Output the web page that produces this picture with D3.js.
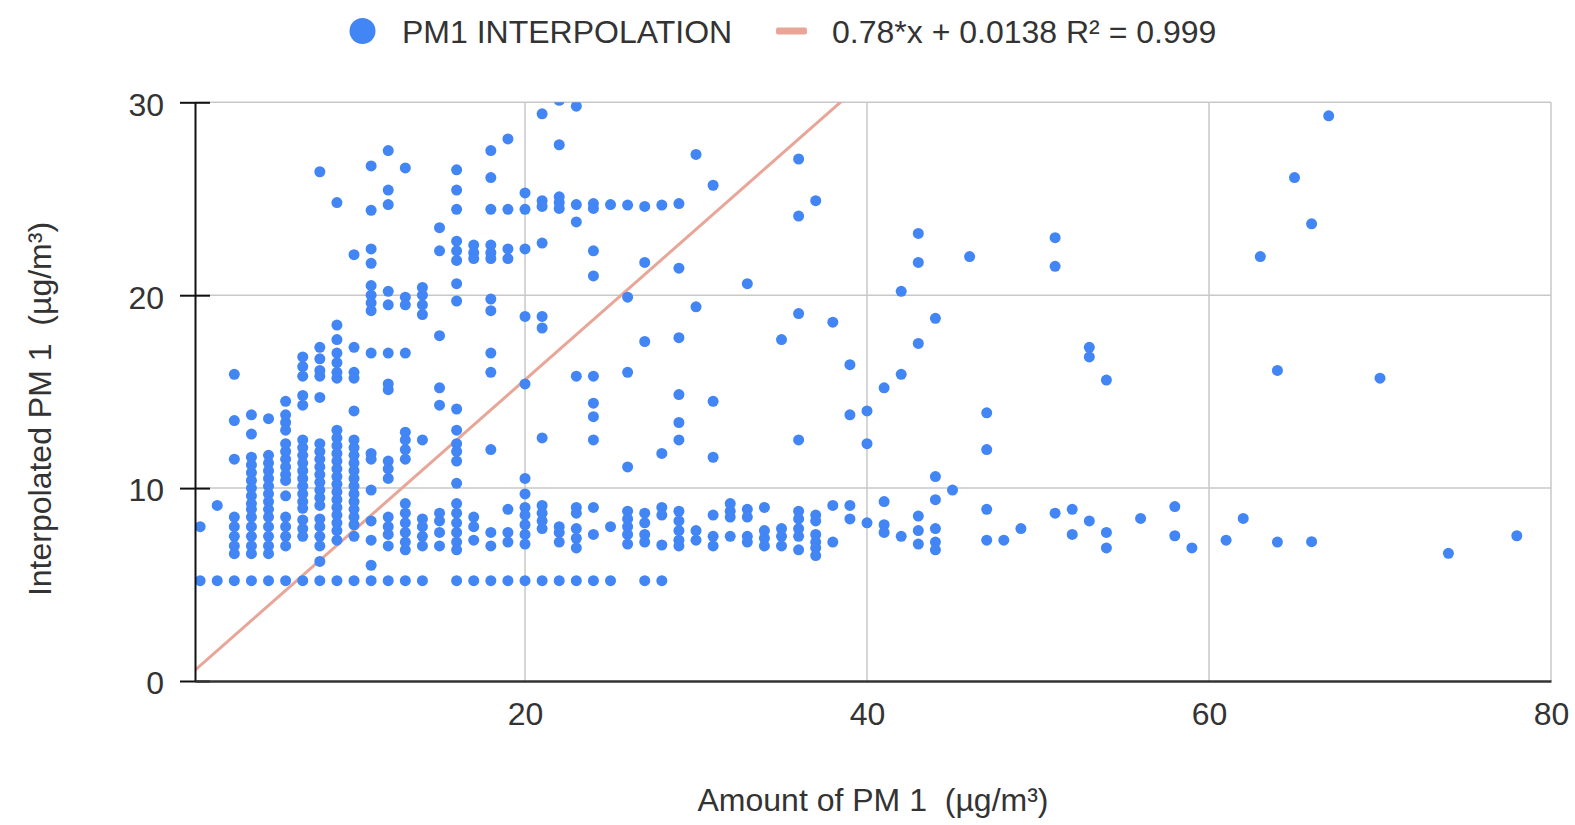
<!DOCTYPE html>
<html><head><meta charset="utf-8">
<script src="https://cdn.jsdelivr.net/npm/d3@7"></script>
<style>
html,body{margin:0;padding:0;background:#fff;}
svg{display:block;font-family:"Liberation Sans",Arial,sans-serif;}
text{white-space:pre;}
</style></head><body>
<svg id="chart" width="1575" height="825"></svg>
<script>
// ---- data ----
const xTickValues = [20, 40, 60, 80];
const yTickValues = [0, 10, 20, 30];
const seriesName = "PM1 INTERPOLATION";
const trendLabel = "0.78*x + 0.0138 R\u00B2 = 0.999";
const trendSlope = 0.78;
const trendIntercept = 0.0138;
const xAxisTitle = "Amount of PM 1  (\u00B5g/m\u00B3)";
const yAxisTitle = "Interpolated PM 1  (\u00B5g/m\u00B3)";

// measured PM1 amount (x) and the interpolated PM1 values observed at that amount (y)
const amountPM1 = [1,2,3,4,5,6,7,8,9,10,11,12,13,14,15,16,17,18,19,20,21,22,23,24,25,26,27,28,29,30,31,32,33,34,35,36,37,38,39,40,41,42,43,44,45,46,47,48,49,51,52,53,54,56,58,59,61,62,63,64,65,66,67,70,74,78];
const interpolatedPM1 = [
  [8.0, 5.2],
  [9.1, 5.2],
  [15.9, 13.5, 11.5, 8.5, 8.0, 7.5, 7.0, 6.6, 5.2],
  [13.8, 12.8, 11.6, 11.2, 10.8, 10.4, 10.0, 9.6, 9.2, 8.9, 8.5, 8.0, 7.5, 7.0, 6.6, 5.2],
  [13.6, 11.7, 11.3, 10.9, 10.5, 10.1, 9.7, 9.3, 8.9, 8.5, 8.0, 7.5, 7.0, 6.6, 5.2],
  [14.5, 13.8, 13.4, 13.0, 12.3, 11.9, 11.5, 11.1, 10.7, 10.4, 9.6, 8.5, 8.0, 7.5, 7.0, 5.2],
  [16.8, 16.3, 15.8, 14.8, 14.3, 12.5, 12.1, 11.7, 11.3, 10.9, 10.5, 10.1, 9.7, 9.3, 8.95, 8.35, 7.9, 7.5, 5.2],
  [26.4, 17.3, 16.7, 16.1, 15.8, 14.7, 12.3, 11.9, 11.5, 11.1, 10.7, 10.3, 9.9, 9.5, 9.1, 8.4, 8.0, 7.5, 7.0, 6.2, 5.2],
  [24.8, 18.45, 17.7, 17.0, 16.5, 16.0, 15.7, 13.0, 12.6, 12.2, 11.8, 11.4, 11.0, 10.6, 10.2, 9.8, 9.4, 9.0, 8.6, 8.2, 7.8, 7.3, 5.2],
  [22.1, 17.3, 16.0, 15.7, 14.0, 12.5, 12.1, 11.7, 11.3, 10.9, 10.5, 10.1, 9.7, 9.3, 8.9, 8.5, 8.1, 7.5, 5.2],
  [26.7, 24.4, 22.4, 21.65, 20.5, 20.0, 19.6, 19.2, 17.0, 11.8, 11.5, 9.9, 8.3, 7.3, 6.0, 5.2],
  [27.5, 25.45, 24.7, 20.2, 19.5, 17.0, 15.4, 15.1, 11.4, 11.0, 10.5, 8.5, 8.0, 7.6, 7.0, 5.2],
  [26.6, 19.9, 19.5, 17.0, 12.9, 12.5, 12.0, 11.5, 9.2, 8.7, 8.2, 7.7, 7.2, 6.8, 5.2],
  [20.4, 20.0, 19.5, 19.0, 12.5, 8.4, 8.0, 7.5, 7.0, 5.2],
  [23.5, 22.3, 17.9, 15.2, 14.3, 8.7, 8.3, 7.7, 7.0],
  [26.5, 25.45, 24.45, 22.8, 22.3, 21.8, 20.6, 19.7, 14.1, 13.0, 12.3, 11.9, 11.4, 10.25, 9.2, 8.7, 8.2, 7.7, 7.2, 6.8, 5.2],
  [22.6, 22.2, 21.9, 8.5, 8.0, 7.3, 5.2],
  [27.5, 26.1, 24.45, 22.6, 22.2, 21.9, 19.8, 19.2, 17.0, 16.0, 12.0, 7.7, 7.0, 5.2],
  [28.1, 24.45, 22.4, 21.9, 8.9, 7.7, 7.2, 5.2],
  [25.3, 24.45, 22.4, 18.9, 15.4, 10.5, 9.7, 9.0, 8.6, 8.1, 7.6, 7.1, 5.2],
  [29.4, 24.9, 24.6, 22.7, 18.9, 18.3, 12.6, 9.1, 8.7, 8.3, 7.9, 5.2],
  [30.1, 27.8, 25.1, 24.8, 24.5, 8.0, 7.7, 7.2, 5.2],
  [29.8, 24.7, 23.8, 15.8, 9.0, 8.7, 7.9, 7.4, 6.9, 5.2],
  [24.75, 24.5, 22.3, 21.0, 15.8, 14.4, 13.7, 12.5, 9.0, 7.6, 5.2],
  [24.7, 8.0, 5.2],
  [24.67, 19.9, 16.0, 11.1, 8.8, 8.4, 8.0, 7.6, 7.1],
  [24.6, 21.7, 17.6, 8.7, 8.2, 7.6, 7.2, 5.2],
  [24.67, 11.8, 9.0, 8.6, 7.05, 5.2],
  [24.75, 21.4, 17.8, 14.85, 13.4, 12.5, 8.8, 8.3, 7.8, 7.3, 7.0],
  [27.3, 19.4, 7.8, 7.3],
  [25.7, 14.5, 11.6, 8.6, 7.5, 7.0],
  [9.2, 8.8, 8.5, 7.5],
  [20.6, 8.9, 8.5, 7.5, 7.2],
  [9.0, 7.8, 7.4, 7.0],
  [17.7, 7.9, 7.5, 7.0],
  [27.06, 24.1, 19.05, 12.5, 8.8, 8.4, 7.9, 7.5, 6.8],
  [24.9, 8.6, 8.3, 7.6, 7.2, 6.9, 6.5],
  [18.6, 9.1, 7.2],
  [16.4, 13.8, 9.1, 8.4],
  [14.0, 12.3, 8.2],
  [15.2, 9.3, 8.1, 7.7],
  [20.2, 15.9, 7.5],
  [23.2, 21.7, 17.5, 8.55, 7.8, 7.1],
  [18.8, 10.6, 9.4, 7.9, 7.2, 6.8],
  [9.9],
  [22.0],
  [13.9, 12.0, 8.9, 7.3],
  [7.3],
  [7.9],
  [22.98, 21.5, 8.7],
  [8.9, 7.6],
  [17.3, 16.8, 8.3],
  [15.6, 7.7, 6.9],
  [8.43],
  [9.04, 7.53],
  [6.9],
  [7.3],
  [8.43],
  [22.0],
  [16.1, 7.2],
  [26.1],
  [23.7, 7.22],
  [29.3],
  [15.7],
  [6.62],
  [7.53]
];

// ---- layout ----
const plot = {left: 195, right: 1551, top: 102.3, bottom: 681};
const xDomain = [0.7, 80];
const yDomain = [0, 30];
const pointColor = "#4285F4";
const trendColor = "#E8A699";
const fontSize = 32;

const svg = d3.select("#chart");
const x = d3.scaleLinear().domain(xDomain).range([plot.left, plot.right]);
const y = d3.scaleLinear().domain(yDomain).range([plot.bottom, plot.top]);

const points = [];
amountPM1.forEach((a, i) => interpolatedPM1[i].forEach(v => points.push({x: a, y: v})));

svg.append("defs").append("clipPath").attr("id", "plotClip")
  .append("rect").attr("x", plot.left).attr("y", plot.top)
  .attr("width", plot.right - plot.left).attr("height", plot.bottom - plot.top);

// gridlines
const grid = svg.append("g").attr("stroke", "#c8c8c8").attr("stroke-width", 1.5);
grid.selectAll("line.vx").data(xTickValues).join("line").attr("class", "vx")
  .attr("x1", d => x(d)).attr("x2", d => x(d)).attr("y1", plot.top).attr("y2", plot.bottom);
grid.selectAll("line.hy").data(yTickValues.filter(d => d > 0)).join("line").attr("class", "hy")
  .attr("x1", plot.left).attr("x2", plot.right).attr("y1", d => y(d)).attr("y2", d => y(d));

// trendline
const trendG = svg.append("g").attr("clip-path", "url(#plotClip)");
trendG.append("path")
  .datum(xDomain)
  .attr("fill", "none").attr("stroke", trendColor).attr("stroke-width", 3)
  .attr("d", d3.line().x(d => x(d)).y(d => y(trendSlope * d + trendIntercept)));

// points
svg.append("g").attr("clip-path", "url(#plotClip)")
  .selectAll("circle").data(points).join("circle")
  .attr("cx", d => x(d.x)).attr("cy", d => y(d.y)).attr("r", 5.5)
  .attr("fill", pointColor);

// y axis
const yAxis = svg.append("g").attr("transform", `translate(${plot.left},0)`)
  .call(d3.axisLeft(y).tickValues(yTickValues).tickSizeInner(15).tickSizeOuter(0).tickPadding(16));
yAxis.select(".domain").attr("stroke", "#111").attr("stroke-width", 2);
yAxis.selectAll(".tick line").attr("x1", -15).attr("x2", 15).attr("stroke", "#111").attr("stroke-width", 2);
yAxis.selectAll(".tick text").attr("font-size", fontSize).attr("font-family", "Liberation Sans, Arial, sans-serif")
  .attr("fill", "#333").attr("dy", "0.4em");

// x axis
const xAxis = svg.append("g").attr("transform", `translate(0,${plot.bottom})`)
  .call(d3.axisBottom(x).tickValues(xTickValues).tickSize(0).tickPadding(21));
xAxis.select(".domain").attr("stroke", "#333").attr("stroke-width", 2.5);
xAxis.selectAll(".tick text").attr("font-size", fontSize).attr("font-family", "Liberation Sans, Arial, sans-serif")
  .attr("fill", "#333");

// axis titles
svg.append("text").attr("x", 873).attr("y", 811).attr("text-anchor", "middle")
  .attr("font-size", fontSize).attr("fill", "#333").text(xAxisTitle);
svg.append("text").attr("transform", "translate(51,409) rotate(-90)").attr("text-anchor", "middle")
  .attr("font-size", fontSize).attr("fill", "#333").text(yAxisTitle);

// legend
const legend = svg.append("g");
legend.append("circle").attr("cx", 362.5).attr("cy", 31).attr("r", 13).attr("fill", pointColor);
legend.append("text").attr("x", 402).attr("y", 42.5).attr("font-size", fontSize).attr("fill", "#333").text(seriesName);
legend.append("rect").attr("x", 776).attr("y", 27.5).attr("width", 31).attr("height", 7).attr("rx", 2)
  .attr("fill", trendColor);
legend.append("text").attr("x", 832).attr("y", 42.5).attr("font-size", fontSize).attr("fill", "#333").text(trendLabel);
</script>
</body></html>
